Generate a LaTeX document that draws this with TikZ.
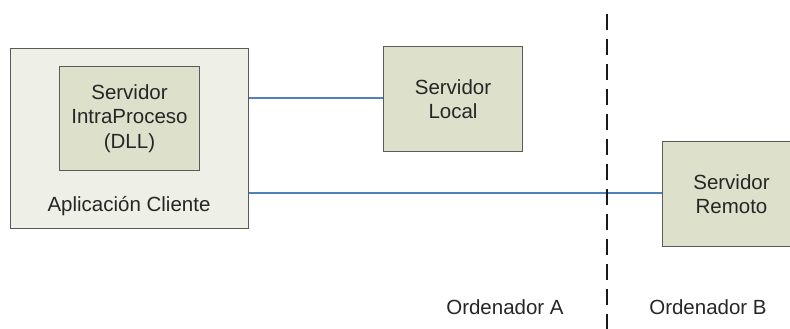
\documentclass[tikz,border=0pt]{standalone}
\usepackage{fontspec}
\setmainfont{Liberation Sans}
\definecolor{boxline}{HTML}{5A5A5A}
\definecolor{outerfill}{HTML}{EEEFE6}
\definecolor{innerfill}{HTML}{DDE0CB}
\definecolor{linkblue}{HTML}{4F81BD}
\tikzset{
  txt/.style={font=\fontsize{20.5}{24.5}\selectfont, align=center, text=black!85},
  box/.style={draw=boxline, line width=1pt, inner sep=0pt, anchor=north west},
  outerbox/.style={box, fill=outerfill},
  srvbox/.style={box, fill=innerfill},
  link/.style={draw=linkblue, line width=1.5pt},
  divider/.style={draw=black!90, line width=2pt, dash pattern=on 16pt off 9pt}
}
\begin{document}
\begin{tikzpicture}[x=1pt, y=-1pt]
  \useasboundingbox (0,0) rectangle (790,329);
  \clip (0,0) rectangle (790,329);

  % client application with the in-process server inside it
  \node[outerbox, minimum width=238pt, minimum height=180pt] (cli) at (10,48) {};
  \node[srvbox, minimum width=140pt, minimum height=104pt] (dll) at (59,66) {};
  \node[txt] (dlltxt) at (dll.center) {Servidor\\IntraProceso\\(DLL)};
  \node[txt] (clitxt) at (129,206) {Aplicación Cliente};

  % local and remote servers
  \node[srvbox, minimum width=139pt, minimum height=105pt] (loc) at (383,46) {};
  \node[txt] (loctxt) at (loc.center) {Servidor\\Local};
  \node[srvbox, minimum width=138pt, minimum height=105pt] (rem) at (662,141) {};
  \node[txt] (remtxt) at (rem.center) {Servidor\\Remoto};

  % connections
  \draw[link] (cli.east |- 0,98) -- (loc.west |- 0,98);
  \draw[link] (cli.east |- 0,193) -- (rem.west |- 0,193);

  % machine boundary
  \coordinate (dtop) at (607,14);
  \coordinate (dbot) at (607,335);
  \draw[divider] (dtop) -- (dbot);
  \node[txt] (pcA) at (505,307) {Ordenador A};
  \node[txt] (pcB) at (708,307) {Ordenador B};
\end{tikzpicture}
\end{document}
